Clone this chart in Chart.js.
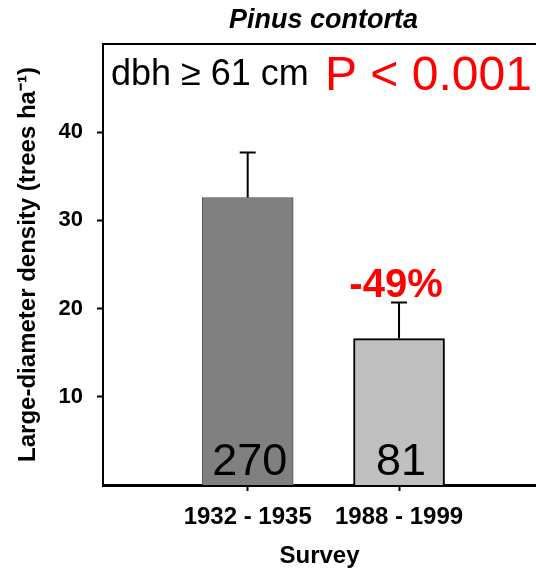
<!DOCTYPE html>
<html>
<head>
<meta charset="utf-8">
<script src="https://cdn.jsdelivr.net/npm/chart.js@4.4.1/dist/chart.umd.min.js"></script>
<style>
  html, body { margin: 0; padding: 0; background: #fff; overflow: hidden; }
  #wrap { width: 536px; height: 574px; }
</style>
</head>
<body>
<div id="wrap"><canvas id="myChart"></canvas></div>
<script>
// data
var surveys = ['1932 - 1935', '1988 - 1999'];
var surveyPos = [1, 2];
var density = [32.6, 16.6];       // trees / ha
var densityErr = [5.1, 4.1];      // upper error bar
var treeCount = ['270', '81'];
var barColors = ['#808080', '#c0c0c0'];
var barBorders = ['#505050', '#000000'];
var changeLabel = '-49%';
var yTicks = [10, 20, 30, 40];

var FONT = "'Liberation Sans', Arial, sans-serif";

// error bars, n labels, extra text
var extras = {
  id: 'extras',
  afterDatasetsDraw: function(chart) {
    var ctx = chart.ctx;
    var xs = chart.scales.x, ys = chart.scales.y;
    var area = chart.chartArea;
    ctx.save();

    // top frame line
    ctx.strokeStyle = '#000';
    ctx.lineWidth = 2;
    ctx.beginPath();
    ctx.moveTo(area.left, area.top);
    ctx.lineTo(chart.width, area.top);
    ctx.stroke();

    for (var i = 0; i < density.length; i++) {
      var x = xs.getPixelForValue(surveyPos[i]);
      var y0 = ys.getPixelForValue(density[i]);
      var y1 = ys.getPixelForValue(density[i] + densityErr[i]);
      ctx.strokeStyle = '#000';
      ctx.lineWidth = 2;
      ctx.beginPath();
      ctx.moveTo(x, y0);
      ctx.lineTo(x, y1);
      ctx.moveTo(x - 8, y1);
      ctx.lineTo(x + 8, y1);
      ctx.stroke();

      ctx.fillStyle = '#000';
      ctx.font = '45px ' + FONT;
      ctx.textAlign = 'center';
      ctx.textBaseline = 'alphabetic';
      ctx.fillText(treeCount[i], x + 2, ys.getPixelForValue(0) - 10);
    }

    // percent change over 2nd bar
    var x2 = xs.getPixelForValue(surveyPos[1]);
    ctx.fillStyle = '#ff0000';
    ctx.font = 'bold 40px ' + FONT;
    ctx.textAlign = 'center';
    ctx.fillText(changeLabel, x2 - 3, ys.getPixelForValue(density[1] + densityErr[1]) - 5);

    // header texts
    ctx.textAlign = 'left';
    ctx.fillStyle = '#000';
    ctx.font = '36px ' + FONT;
    ctx.fillText('dbh \u2265 61 cm', area.left + 8, 85);
    ctx.fillStyle = '#ff0000';
    ctx.font = '48px ' + FONT;
    ctx.fillText('P < 0.001', area.left + 222, 90);

    // title
    ctx.fillStyle = '#000';
    ctx.textAlign = 'center';
    ctx.font = 'italic bold 27px ' + FONT;
    ctx.fillText('Pinus contorta', (area.left + area.right) / 2 + 4, 28);
    ctx.restore();
  }
};

var ctx = document.getElementById('myChart').getContext('2d');
var myChart = new Chart(ctx, {
  type: 'bar',
  data: {
    datasets: [{
      data: surveyPos.map(function(p, i) { return {x: p, y: density[i]}; }),
      backgroundColor: barColors,
      borderColor: barBorders,
      borderWidth: [1, 2],
      barThickness: 91
    }]
  },
  options: {
    responsive: true,
    maintainAspectRatio: false,
    animation: false,
    layout: { padding: { top: 44, left: 0, right: 0, bottom: 0 } },
    plugins: {
      legend: { display: false },
      tooltip: { enabled: false },
      title: { display: false }
    },
    scales: {
      x: {
        type: 'linear',
        offset: false,
        min: 0.044,
        max: 2.905,
        afterFit: function(s) { s.height = 89; },
        afterBuildTicks: function(s) {
          s.ticks = surveyPos.map(function(v) { return {value: v}; });
        },
        ticks: {
          callback: function(v) { return surveys[surveyPos.indexOf(v)]; },
          color: '#000',
          font: { family: FONT, size: 24, weight: 'bold' },
          padding: 12,
          maxRotation: 0,
          autoSkip: false
        },
        grid: { offset: false, drawOnChartArea: false, drawTicks: true, tickLength: 6, color: '#000', tickWidth: 2 },
        border: { display: true, color: '#000', width: 3 },
        title: {
          display: true,
          text: 'Survey',
          color: '#000',
          font: { family: FONT, size: 24, weight: 'bold' },
          padding: { top: 0, bottom: 3 }
        }
      },
      y: {
        min: 0,
        max: 50,
        afterFit: function(s) { s.width = 103; },
        afterBuildTicks: function(s) {
          s.ticks = yTicks.map(function(v) { return {value: v}; });
        },
        ticks: {
          color: '#000',
          font: { family: FONT, size: 22, weight: 'bold' },
          padding: 14
        },
        grid: { drawOnChartArea: false, drawTicks: true, tickLength: 6, color: '#000', tickWidth: 2 },
        border: { display: true, color: '#000', width: 2 },
        title: {
          display: true,
          text: 'Large-diameter density (trees ha\u207B\u00B9)',
          color: '#000',
          font: { family: FONT, size: 24, weight: 'bold' },
          padding: { top: 14, bottom: 0 }
        }
      }
    }
  },
  plugins: [extras]
});
</script>
</body>
</html>
